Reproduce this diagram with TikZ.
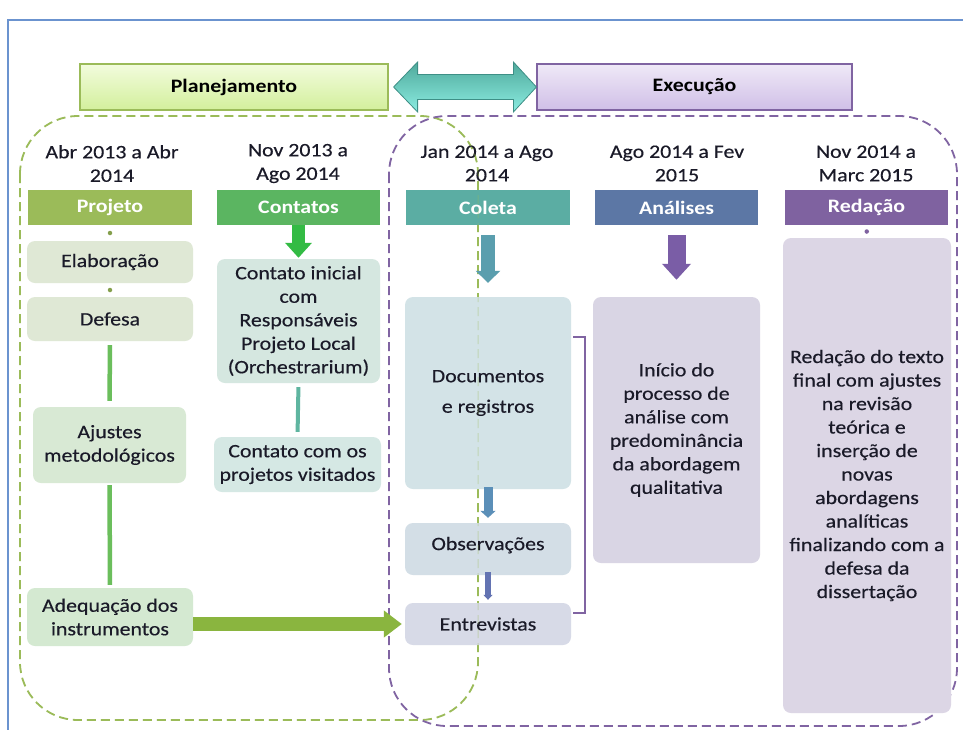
\documentclass[tikz,border=0pt]{standalone}
\usepackage{fontspec}
\setmainfont{Carlito}[FakeStretch=1.15, UprightFeatures={FakeBold=0.35}]
\usetikzlibrary{arrows.meta,calc}

\definecolor{txt}{HTML}{1A1A28}
\definecolor{frameblue}{HTML}{6B93CF}
\definecolor{olive}{HTML}{9BBB59}
\definecolor{contgreen}{HTML}{5BB561}
\definecolor{colteal}{HTML}{5BADA3}
\definecolor{anablue}{HTML}{5C77A5}
\definecolor{redpurple}{HTML}{7F62A0}
\definecolor{dashgreen}{HTML}{9BBB59}
\definecolor{dashpurple}{HTML}{8064A2}
\definecolor{planTop}{HTML}{F2FCDD}
\definecolor{planBot}{HTML}{D3EF9C}
\definecolor{execTop}{HTML}{EFE9F7}
\definecolor{execBot}{HTML}{D0BFE7}
\definecolor{dblTop}{HTML}{4FA99B}
\definecolor{dblBot}{HTML}{8CEDE2}
\definecolor{dblEdge}{HTML}{3E8F86}
\definecolor{fElab}{HTML}{DFE8D5}
\definecolor{fAjust}{HTML}{D8E9D4}
\definecolor{fAdeq}{HTML}{D4E9D1}
\definecolor{fCini}{HTML}{D5E7E0}
\definecolor{fCvis}{HTML}{D5E8E4}
\definecolor{fDoc}{HTML}{D3E3E7}
\definecolor{fObs}{HTML}{D3DEE6}
\definecolor{fEntr}{HTML}{D7DAE7}
\definecolor{fIni}{HTML}{D9D5E4}
\definecolor{fRed}{HTML}{DCD6E5}
\definecolor{linkgreen}{HTML}{6BBE5C}
\definecolor{linkteal}{HTML}{5FB5A0}
\definecolor{arrGreen}{HTML}{33BB44}
\definecolor{arrTeal}{HTML}{5A9EAE}
\definecolor{arrPurple}{HTML}{7A5DA6}
\definecolor{arrBlue}{HTML}{5B8FB8}
\definecolor{arrIndigo}{HTML}{6373B2}
\definecolor{arrOlive}{HTML}{8AB53F}

\tikzset{
  hdr/.style={fill=#1, minimum width=164pt, minimum height=35pt, inner sep=0pt,
              text=white, font=\fontsize{19pt}{23.5pt}\selectfont\bfseries},
  phase/.style={minimum width=308pt, minimum height=46pt, inner sep=0pt, line width=1.2pt,
                font=\fontsize{19pt}{23.5pt}\selectfont\bfseries, text=black},
  item/.style={fill=#1, rounded corners=8pt, inner sep=0pt, align=center, text=txt},
  datelbl/.style={align=center, text=txt, inner sep=0pt},
  region/.style={draw=#1, line width=1.8pt, dash pattern=on 9pt off 5pt, rounded corners=58pt},
  link/.style={draw=#1, line width=4.5pt},
  blockarrow/.style n args={4}{draw=#1, line width=#2,
                -{Triangle[width=#3, length=#4]}},
  knot/.style={fill=#1, circle, inner sep=0pt, minimum size=4.5pt},
}

\begin{document}
\begin{tikzpicture}[x=1pt, y=-1pt, font=\fontsize{19pt}{23.5pt}\selectfont]
\useasboundingbox (0,0) rectangle (963,729);
\fill[white] (0,0) rectangle (963,729);

% outer frame
\draw[frameblue, line width=1.5pt] (8,740) -- (8,20) -- (975,20);

% phase regions
\draw[region=dashgreen] (20,116) rectangle (478,720);
\draw[region=dashpurple] (389,116) rectangle (957,726);

% phase titles
\node[phase, draw=olive, top color=planTop, bottom color=planBot] (plan) at (234,87) {Planejamento};
\node[phase, draw=dashpurple, minimum width=315pt, top color=execTop, bottom color=execBot] (exec) at (694.5,87) {Execução};

% two-way arrow between the phases
\draw[draw=dblEdge, line width=0.8pt, top color=dblTop, bottom color=dblBot]
  ($(plan.east)+(5,0)$) -- ++(24,-25) -- ++(0,12.5)
  -- ($(exec.west)+(-23,-12.5)$) -- ++(0,-12.5) -- (exec.west) -- ++(-23,25) -- ++(0,-12.5)
  -- ($(plan.east)+(29,12.5)$) -- ++(0,12.5) -- cycle;

% period labels
\node[datelbl] (d1) at (112,163.5) {Abr 2013 a Abr\\2014};
\node[datelbl] (d2) at (298,163.5) {Nov 2013 a\\Ago 2014};
\node[datelbl] (d3) at (487,163.5) {Jan 2014 a Ago\\2014};
\node[datelbl] (d4) at (677,163.5) {Ago 2014 a Fev\\2015};
\node[datelbl] (d5) at (866,163.5) {Nov 2014 a\\Marc 2015};

% column headers
\node[hdr=olive] (proj) at (110,207.5) {Projeto};
\node[hdr=contgreen, minimum width=163pt] (cont) at (298.5,207.5) {Contatos};
\node[hdr=colteal] (col) at (488,207.5) {Coleta};
\node[hdr=anablue, minimum width=163pt] (ana) at (676.5,207.5) {Análises};
\node[hdr=redpurple, minimum width=163pt] (red) at (866.5,207.5) {Redação};

% Projeto column
\node[item=fElab, minimum width=166pt, minimum height=42pt] (elab) at (110,262) {Elaboração};
\node[item=fElab, minimum width=166pt, minimum height=44pt] (def) at (110,319) {Defesa};
\node[item=fAjust, minimum width=153pt, minimum height=76pt] (ajust) at (109.5,445) {Ajustes\\metodológicos};
\node[item=fAdeq, minimum width=166pt, minimum height=58pt] (adeq) at (110,617) {Adequação dos\\instrumentos};

% Contatos column
\node[item=fCini, minimum width=163pt, minimum height=124pt] (cini) at (298.5,321) {Contato inicial\\com\\Responsáveis\\Projeto Local\\(Orchestrarium)};
\node[item=fCvis, minimum width=167pt, minimum height=55pt] (cvis) at (297.5,464.5) {Contato com os\\projetos visitados};

% Coleta column
\node[item=fDoc, minimum width=166pt, minimum height=192pt] (doc) at (488,393) {Documentos\\[7pt]e registros};
\node[item=fObs, minimum width=166pt, minimum height=52pt, text depth=11pt] (obs) at (488,549) {Observações};
\node[item=fEntr, minimum width=166pt, minimum height=42pt] (entr) at (488,624) {Entrevistas};

% Análises column
\node[item=fIni, minimum width=167pt, minimum height=266pt] (ini) at (676.5,430) {Início do\\processo de\\análise com\\predominância\\da abordagem\\qualitativa};

% Redação column
\node[item=fRed, minimum width=168pt, minimum height=475pt] (redt) at (867,475.5) {Redação do texto\\final com ajustes\\na revisão\\teórica e\\inserção de\\novas\\abordagens\\analíticas\\finalizando com a\\defesa da\\dissertação};

% the planning border shows faintly through the collection boxes
\draw[region=dashgreen, draw opacity=0.35, line width=1pt] (20,116) rectangle (478,720);

% links inside the columns
\node[knot=olive!85!black] (k1) at ($(proj.south)!0.5!(elab.north)$) {};
\node[knot=olive!85!black] (k2) at ($(elab.south)!0.5!(def.north)$) {};
\node[knot=redpurple] (k3) at ($(red.south)!0.5!(redt.north)$) {};
\draw[link=linkgreen, shorten <=4pt, shorten >=6pt] (def.south) -- (ajust.north);
\draw[link=linkgreen, shorten <=2pt, shorten >=3pt] (ajust.south) -- (adeq.north);
\draw[link=linkteal, line width=4pt, shorten <=4pt, shorten >=5pt] (cini.south) -- (cvis.north);

% block arrows
\draw[blockarrow={arrGreen}{13pt}{26pt}{15pt}] (cont.south) -- ($(cini.north)+(0,-1)$);
\draw[blockarrow={arrTeal}{14pt}{24pt}{12pt}] ($(col.south)+(0,10)$) -- ($(doc.north)+(0,-14)$);
\draw[blockarrow={arrPurple}{18pt}{28pt}{16pt}] ($(ana.south)+(0,10)$) -- ($(ini.north)+(0,-17)$);
\draw[blockarrow={arrBlue}{9pt}{15pt}{7pt}] ($(doc.south)+(0,-2)$) -- ($(obs.north)+(0,-5)$);
\draw[blockarrow={arrIndigo}{6pt}{9pt}{5pt}] ($(obs.south)+(0,-3)$) -- ($(entr.north)+(0,-3)$);
\draw[blockarrow={arrOlive}{14pt}{26pt}{18pt}] (adeq.east |- entr.west) -- ($(entr.west)+(-3,0)$);

% bracket joining the collection items
\draw[dashpurple, line width=2pt] ($(doc.north east)+(2,40)$) -- ++(12,0) |- ($(entr.north east)+(2,10)$);
\end{tikzpicture}
\end{document}
